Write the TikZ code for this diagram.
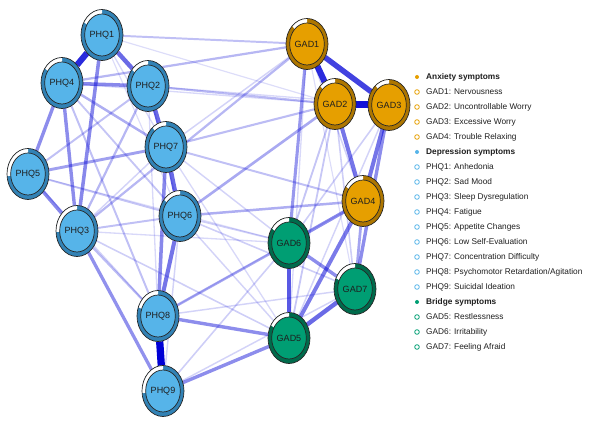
\documentclass[tikz,border=0pt]{standalone}
\usepackage{fontspec}
\setmainfont{Liberation Sans}
\usetikzlibrary{shapes.geometric}
\definecolor{phqfill}{HTML}{56B4E9}
\definecolor{phqring}{HTML}{3282B5}
\definecolor{gadfill}{HTML}{E69F00}
\definecolor{gadring}{HTML}{AD7600}
\definecolor{brfill}{HTML}{009E73}
\definecolor{brring}{HTML}{006B4C}
\definecolor{edgecol}{RGB}{0,0,213}
\definecolor{txt}{HTML}{1E1E1E}
\pgfdeclarelayer{bg}
\pgfsetlayers{bg,main}
\tikzset{
  outerell/.style={ellipse, minimum width=42pt, minimum height=51pt, inner sep=0pt, outer sep=0pt},
  innerell/.style={ellipse, minimum width=33pt, minimum height=42pt, inner sep=0pt, outer sep=0pt, draw=black!85, line width=0.7pt, text=txt, font=\fontsize{9}{10}\selectfont},
  ringline/.style={draw=black!85, line width=0.7pt},
  edgeline/.style={draw=edgecol, line cap=butt},
  legtext/.style={anchor=west, inner sep=0pt, text=txt, font=\fontsize{8.3}{10}\selectfont},
  leghead/.style={legtext, font=\fontsize{8.3}{10}\selectfont\bfseries},
}
\newcommand\symnode[7]{%
  \node[outerell, fill=#6] (#1) at (#2,428-#3) {};
  \fill[white] (#1.center) -- ++(0,25.5) arc[start angle=90, end angle={90+#7}, x radius=21, y radius=25.5] -- cycle;
  \node[innerell, fill=#5] (#1in) at (#1.center) {#4};
  \draw[ringline] (#1.center) ellipse[x radius=21, y radius=25.5];
}
\begin{document}
\begin{tikzpicture}[x=1pt,y=1pt]
\useasboundingbox (0,0) rectangle (590,428);
% nodes
\symnode{PHQ1}{102}{35}{PHQ1}{phqfill}{phqring}{60}
\symnode{PHQ4}{62}{83}{PHQ4}{phqfill}{phqring}{55}
\symnode{PHQ2}{148}{86}{PHQ2}{phqfill}{phqring}{50}
\symnode{PHQ7}{166}{147}{PHQ7}{phqfill}{phqring}{40}
\symnode{PHQ5}{28}{174}{PHQ5}{phqfill}{phqring}{95}
\symnode{PHQ6}{180}{216}{PHQ6}{phqfill}{phqring}{50}
\symnode{PHQ3}{77}{231}{PHQ3}{phqfill}{phqring}{92}
\symnode{PHQ8}{158}{316}{PHQ8}{phqfill}{phqring}{70}
\symnode{PHQ9}{163}{391}{PHQ9}{phqfill}{phqring}{95}
\symnode{GAD1}{307}{44}{GAD1}{gadfill}{gadring}{45}
\symnode{GAD2}{335}{104}{GAD2}{gadfill}{gadring}{45}
\symnode{GAD3}{389}{105}{GAD3}{gadfill}{gadring}{40}
\symnode{GAD4}{363}{201}{GAD4}{gadfill}{gadring}{55}
\symnode{GAD6}{289}{243}{GAD6}{brfill}{brring}{55}
\symnode{GAD7}{355}{289}{GAD7}{brfill}{brring}{65}
\symnode{GAD5}{289}{338}{GAD5}{brfill}{brring}{60}
% edges
\begin{pgfonlayer}{bg}
\foreach \a/\b/\w in {
 PHQ1/GAD2/0.06, PHQ1/PHQ7/0.08, PHQ1/PHQ6/0.06, PHQ2/GAD3/0.08, PHQ2/PHQ6/0.12,
 PHQ2/PHQ8/0.08, PHQ4/GAD2/0.08, PHQ5/PHQ8/0.1, PHQ5/GAD6/0.06, PHQ3/PHQ7/0.1,
 PHQ3/GAD6/0.08, PHQ3/GAD5/0.12, PHQ7/GAD6/0.1, PHQ7/GAD5/0.08, PHQ7/GAD1/0.1,
 PHQ6/GAD6/0.12, PHQ6/GAD7/0.12, PHQ6/GAD5/0.1, PHQ6/PHQ9/0.1, PHQ8/GAD7/0.1,
 PHQ9/GAD6/0.12, PHQ9/GAD7/0.1, PHQ8/GAD4/0.06, GAD1/GAD4/0.1, GAD1/GAD5/0.08,
 GAD1/GAD7/0.06, GAD2/GAD6/0.16, GAD2/GAD5/0.15, GAD2/GAD7/0.12, GAD3/GAD6/0.12,
 GAD3/GAD5/0.1,
 PHQ1/GAD1/0.18, PHQ4/GAD1/0.22, PHQ2/GAD2/0.2, PHQ7/GAD2/0.2, PHQ7/GAD4/0.18,
 PHQ6/GAD2/0.28, PHQ6/GAD4/0.26, PHQ3/GAD1/0.22, PHQ3/PHQ8/0.2, PHQ3/PHQ6/0.18,
 PHQ5/PHQ6/0.16, PHQ2/PHQ5/0.18, PHQ2/PHQ3/0.22, PHQ4/PHQ7/0.26, PHQ4/PHQ6/0.16,
 PHQ4/PHQ8/0.18, PHQ8/GAD6/0.28,
 PHQ5/PHQ7/0.32, PHQ3/PHQ9/0.38, PHQ4/PHQ5/0.4, PHQ4/PHQ3/0.4, PHQ1/PHQ3/0.42,
 PHQ5/PHQ3/0.42, PHQ4/PHQ2/0.42, PHQ8/GAD5/0.4, PHQ9/GAD5/0.4, GAD1/GAD6/0.35,
 GAD4/GAD7/0.3, GAD6/GAD4/0.4, GAD6/GAD7/0.4, GAD3/GAD7/0.4, GAD4/GAD5/0.48,
 GAD3/GAD4/0.5, GAD2/GAD4/0.5, PHQ7/PHQ8/0.42, PHQ6/PHQ8/0.5, PHQ7/PHQ6/0.55,
 PHQ2/PHQ7/0.55, PHQ1/PHQ2/0.55, GAD5/GAD7/0.55, GAD6/GAD5/0.62,
 GAD1/GAD3/0.72, GAD1/GAD2/0.82, PHQ1/PHQ4/0.82, GAD2/GAD3/0.92, PHQ8/PHQ9/1.0}
{
  \pgfmathsetmacro\lw{0.8+6.5*\w}
  \pgfmathsetmacro\op{0.08+0.92*\w}
  \draw[edgeline, line width=\lw pt, draw opacity=\op] (\a) -- (\b);
}
\end{pgfonlayer}
% legend
\foreach \i/\kind/\col/\t in {
 0/h/gadfill/{Anxiety symptoms},
 1/i/gadfill/{GAD1: Nervousness},
 2/i/gadfill/{GAD2: Uncontrollable Worry},
 3/i/gadfill/{GAD3: Excessive Worry},
 4/i/gadfill/{GAD4: Trouble Relaxing},
 5/h/phqfill/{Depression symptoms},
 6/i/phqfill/{PHQ1: Anhedonia},
 7/i/phqfill/{PHQ2: Sad Mood},
 8/i/phqfill/{PHQ3: Sleep Dysregulation},
 9/i/phqfill/{PHQ4: Fatigue},
 10/i/phqfill/{PHQ5: Appetite Changes},
 11/i/phqfill/{PHQ6: Low Self-Evaluation},
 12/i/phqfill/{PHQ7: Concentration Difficulty},
 13/i/phqfill/{PHQ8: Psychomotor Retardation/Agitation},
 14/i/phqfill/{PHQ9: Suicidal Ideation},
 15/h/brfill/{Bridge symptoms},
 16/i/brfill/{GAD5: Restlessness},
 17/i/brfill/{GAD6: Irritability},
 18/i/brfill/{GAD7: Feeling Afraid}}
{
  \pgfmathsetmacro\yy{428-77-15*\i}
  \if\kind h
    \node[circle, fill=\col, minimum size=4pt, inner sep=0pt] (lm\i) at (417,\yy) {};
    \node[leghead] (lt\i) at (426,\yy) {\t};
  \else
    \node[circle, draw=\col, line width=0.8pt, minimum size=4.6pt, inner sep=0pt] (lm\i) at (417,\yy) {};
    \node[legtext] (lt\i) at (426,\yy) {\t};
  \fi
}
\end{tikzpicture}
\end{document}
